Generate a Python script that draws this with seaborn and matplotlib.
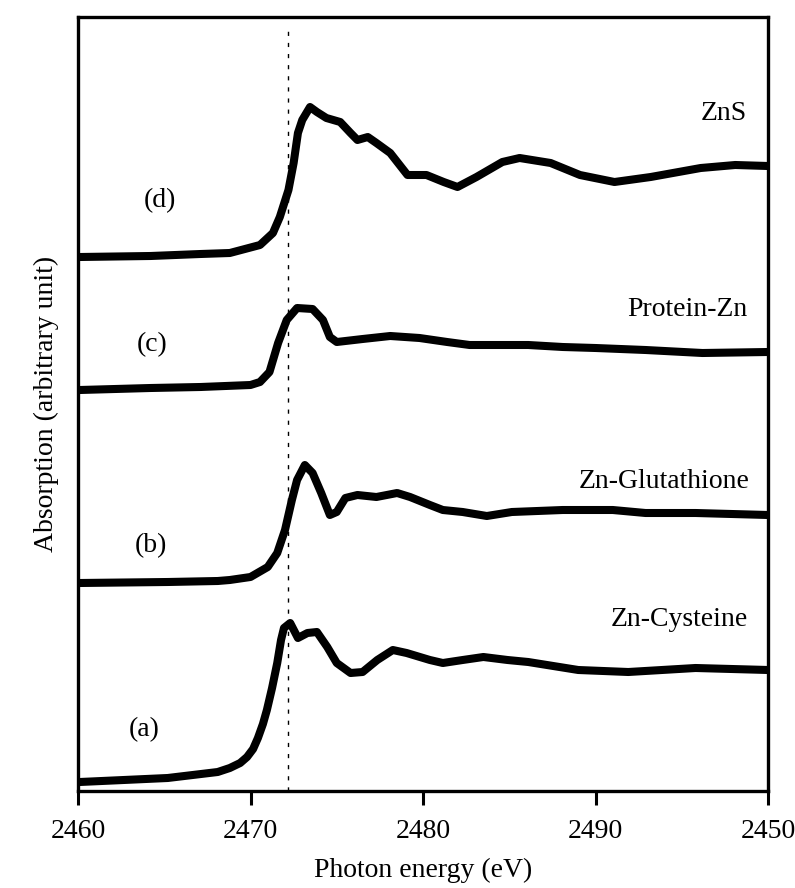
import numpy as np
import pandas as pd
import matplotlib
matplotlib.use("Agg")
import matplotlib.pyplot as plt
import seaborn as sns

# ---------------- data ----------------
# (a) Zn-Cysteine
energy_a = [2460.1, 2465.2, 2468.1, 2468.8, 2469.4, 2469.8, 2470.15, 2470.43, 2470.72,
            2470.95, 2471.25, 2471.55, 2471.77, 2471.94, 2472.3, 2472.75, 2473.3, 2473.85,
            2474.45, 2475.0, 2475.8, 2476.5, 2477.35, 2478.25, 2479.05, 2480.4, 2481.15,
            2482.3, 2483.5, 2484.9, 2486.1, 2489.0, 2491.9, 2495.8, 2500.0]
absorb_a = [9, 13, 19, 23, 28, 34, 42, 53, 67, 81, 103, 128, 151, 163, 168, 153, 158, 159,
            144, 128, 118, 119, 131, 141, 138, 131, 128, 131, 134, 131, 129, 121, 119, 123, 121]

# (b) Zn-Glutathione
energy_b = [2460.1, 2465.2, 2468.1, 2468.8, 2470.0, 2471.0, 2471.55, 2472.0, 2472.4, 2472.7,
            2473.15, 2473.6, 2474.1, 2474.6, 2475.0, 2475.5, 2476.2, 2477.3, 2478.5, 2479.25,
            2480.4, 2481.15, 2482.3, 2483.7, 2485.15, 2488.1, 2491.0, 2492.9, 2495.8, 2500.0]
absorb_b = [208, 209, 210, 211, 214, 224, 238, 261, 291, 311, 326, 318, 298, 276, 279, 293,
            296, 294, 298, 294, 286, 281, 279, 275, 279, 281, 281, 278, 278, 276]

# (c) Protein-Zn
energy_c = [2460.1, 2464.2, 2467.1, 2470.0, 2470.55, 2471.1, 2471.6, 2472.1, 2472.7, 2473.6,
            2474.2, 2474.6, 2475.0, 2476.5, 2478.1, 2479.8, 2481.4, 2482.7, 2484.5, 2486.1,
            2488.1, 2490.0, 2492.9, 2496.2, 2500.0]
absorb_c = [401, 403, 404, 406, 409, 419, 448, 471, 483, 482, 471, 454, 449, 452, 455, 453,
            449, 446, 446, 446, 444, 443, 441, 438, 439]

# (d) ZnS
energy_d = [2460.1, 2464.2, 2467.1, 2468.8, 2470.55, 2471.3, 2471.7, 2472.2, 2472.5, 2472.75,
            2473.0, 2473.45, 2473.85, 2474.4, 2475.2, 2475.8, 2476.2, 2476.8, 2477.3, 2478.1,
            2479.1, 2480.2, 2481.2, 2482.0, 2483.1, 2484.6, 2485.6, 2487.4, 2489.1, 2491.1,
            2493.2, 2496.1, 2498.1, 2500.0]
absorb_d = [534, 535, 537, 538, 546, 558, 574, 601, 628, 658, 671, 684, 679, 673, 669, 658,
            651, 654, 648, 638, 616, 616, 609, 604, 614, 629, 633, 628, 616, 609, 614, 623,
            626, 625]

series_names = ["Zn-Cysteine", "Zn-Glutathione", "Protein-Zn", "ZnS"]
series_tags = ["(a)", "(b)", "(c)", "(d)"]

tick_values = [2460, 2470, 2480, 2490, 2500]
tick_labels = ["2460", "2470", "2480", "2490", "2450"]

edge_energy = 2472.15

# ---------------- styling ----------------
sns.set_theme(style="white")
plt.rcParams["font.family"] = ["Liberation Serif", "DejaVu Serif"]

fig = plt.figure(figsize=(7.95, 8.88), dpi=100)
ax = fig.add_axes([78 / 795, 1 - 791 / 888, (768 - 78) / 795, (791 - 17) / 888])

frames = []
for name, e, a in [(series_names[0], energy_a, absorb_a),
                   (series_names[1], energy_b, absorb_b),
                   (series_names[2], energy_c, absorb_c),
                   (series_names[3], energy_d, absorb_d)]:
    frames.append(pd.DataFrame({"energy": e, "absorption": a, "sample": name}))
df = pd.concat(frames, ignore_index=True)

ax.axvline(edge_energy, ymin=0, ymax=0.99, color="black", lw=1.0,
           linestyle=(0, (3, 5)), zorder=1)

for name in series_names:
    sub = df[df["sample"] == name]
    sns.lineplot(data=sub, x="energy", y="absorption", ax=ax, color="black",
                 lw=5.8, sort=False, estimator=None, legend=False,
                 solid_capstyle="butt", solid_joinstyle="round", zorder=3)

ax.set_xlim(2460, 2500)
ax.set_ylim(0, 774)
ax.set_xticks(tick_values)
ax.set_xticklabels(tick_labels)
ax.set_yticks([])
ax.tick_params(axis="x", direction="out", length=10, width=2.2, pad=10,
               labelsize=20, colors="black", bottom=True)
for sp in ax.spines.values():
    sp.set_visible(True)
    sp.set_color("black")
    sp.set_linewidth(2.4)

ax.set_xlabel("Photon energy (eV)", fontsize=20, color="black", labelpad=10)
ax.set_ylabel("Absorption (arbitrary unit)", fontsize=20, color="black", labelpad=14)

# curve labels (axes-relative placement)
name_pos = [(748, 620), (750, 481), (747, 309), (747, 113)]
tag_pos = [(144, 730), (151, 546), (152, 345), (160, 201)]
L, R, T, B = 78, 768, 17, 791
def to_axes(px, py):
    return (px - L) / (R - L), (B - py) / (B - T)

for name, (px, py) in zip(series_names, name_pos):
    xa, ya = to_axes(px, py)
    ax.text(xa, ya, name, transform=ax.transAxes, ha="right", va="center",
            fontsize=20, color="black")
for tag, (px, py) in zip(series_tags, tag_pos):
    xa, ya = to_axes(px, py)
    ax.text(xa, ya, tag, transform=ax.transAxes, ha="center", va="center",
            fontsize=20, color="black")

fig.savefig("out.png", dpi=100, facecolor="white")
